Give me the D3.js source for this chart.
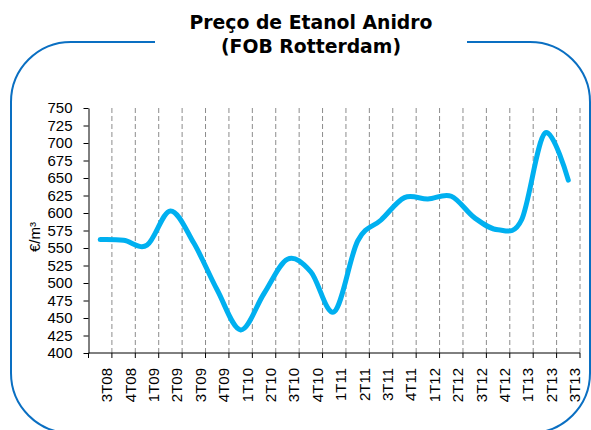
<!DOCTYPE html>
<html>
<head>
<meta charset="utf-8">
<script src="https://cdn.jsdelivr.net/npm/d3@7"></script>
<style>
  body { margin: 0; background: #fff; }
  svg { display: block; }
  text { font-family: "Liberation Sans", Arial, sans-serif; fill: #000; }
  .title { font-family: "DejaVu Sans", Verdana, sans-serif; font-weight: bold; }
</style>
</head>
<body>
<svg id="chart" width="591" height="430"></svg>
<script>
// quarters on the x axis
const quarters = ['3T08', '4T08', '1T09', '2T09', '3T09', '4T09', '1T10', '2T10', '3T10', '4T10',
  '1T11', '2T11', '3T11', '4T11', '1T12', '2T12', '3T12', '4T12', '1T13', '2T13', '3T13'];
// price, EUR per m3
const prices = [562, 561, 554, 603, 557, 490, 433, 485, 534, 516,
  459, 560, 590, 622, 620, 624, 593, 576, 590, 714, 647];
const yTicks = [400, 425, 450, 475, 500, 525, 550, 575, 600, 625, 650, 675, 700, 725, 750];
const titleLines = ['Preço de Etanol Anidro', '(FOB Rotterdam)'];

const [w, h] = [591, 430];
const [plotL, plotR, plotT, plotB] = [88.5, 580, 108, 353];

const svg = d3.select('#chart');

// rounded frame, open at the top where the title sits
const [fx0, fy0, fx1, fy1, r] = [11, 42, 590, 433, 60];
const frame = d3.path();
frame.moveTo(155, fy0);
frame.lineTo(fx0 + r, fy0);
frame.arcTo(fx0, fy0, fx0, fy0 + r, r);
frame.lineTo(fx0, fy1 - r);
frame.arcTo(fx0, fy1, fx0 + r, fy1, r);
frame.lineTo(fx1 - r, fy1);
frame.arcTo(fx1, fy1, fx1, fy1 - r, r);
frame.lineTo(fx1, fy0 + r);
frame.arcTo(fx1, fy0, fx1 - r, fy0, r);
frame.lineTo(467, fy0);
svg.append('path').attr('d', frame.toString())
  .attr('fill', 'none').attr('stroke', '#0a6fc2').attr('stroke-width', 2);

// title, sized to the width of the reference
const title = svg.append('g');
titleLines.forEach((t, i) => {
  title.append('text').attr('class', 'title')
    .attr('x', 311).attr('y', 29 + i * 24)
    .attr('text-anchor', 'middle').style('font-size', '16px').text(t);
});
const firstLen = title.select('text').node().getComputedTextLength();
title.selectAll('text').style('font-size', (16 * 243 / firstLen) + 'px');

const xScale = d3.scaleBand().domain(quarters).range([plotL, plotR]);
const yScale = d3.scaleLinear().domain([400, 750]).range([plotB, plotT]);

// dashed vertical lines between the quarters
const bounds = quarters.map(q => xScale(q) + xScale.bandwidth());
svg.append('g').selectAll('line').data(bounds).enter().append('line')
  .attr('x1', d => d).attr('x2', d => d)
  .attr('y1', plotT).attr('y2', plotB)
  .attr('stroke', '#8c8c8c').attr('stroke-width', 1)
  .attr('stroke-dasharray', '5,3');

// y axis
const yAxis = d3.axisLeft(yScale).tickValues(yTicks).tickSizeInner(5).tickSizeOuter(0).tickPadding(11);
const gy = svg.append('g').attr('transform', `translate(${plotL},0)`).call(yAxis);
gy.selectAll('text').style('font-size', '15px').attr('fill', '#000');
gy.selectAll('line, path').attr('stroke', '#000');

// x axis with ticks at the quarter boundaries
const gx = svg.append('g').attr('transform', `translate(0,${plotB})`);
gx.append('line').attr('x1', plotL).attr('x2', plotR).attr('stroke', '#000');
gx.selectAll('.tick').data([plotL].concat(bounds)).enter().append('line')
  .attr('x1', d => d).attr('x2', d => d).attr('y1', 0).attr('y2', 5)
  .attr('stroke', '#000');
gx.selectAll('.lbl').data(quarters).enter().append('text')
  .attr('transform', d => `translate(${xScale(d) + xScale.bandwidth() + 0.3},15) rotate(-90)`)
  .attr('text-anchor', 'end').style('font-size', '15px').text(d => d);

// axis title
svg.append('text')
  .attr('transform', 'translate(40,237) rotate(-90)')
  .attr('text-anchor', 'middle').style('font-size', '15px').text('€/m³');

// smoothed price line
const line = d3.line()
  .x((d, i) => xScale(quarters[i]) + xScale.bandwidth() / 2)
  .y(d => yScale(d))
  .curve(d3.curveCardinal.tension(0));
svg.append('path').datum(prices).attr('d', line)
  .attr('fill', 'none').attr('stroke', '#00b0f0').attr('stroke-width', 5)
  .attr('stroke-linecap', 'round').attr('stroke-linejoin', 'round');
</script>
</body>
</html>
